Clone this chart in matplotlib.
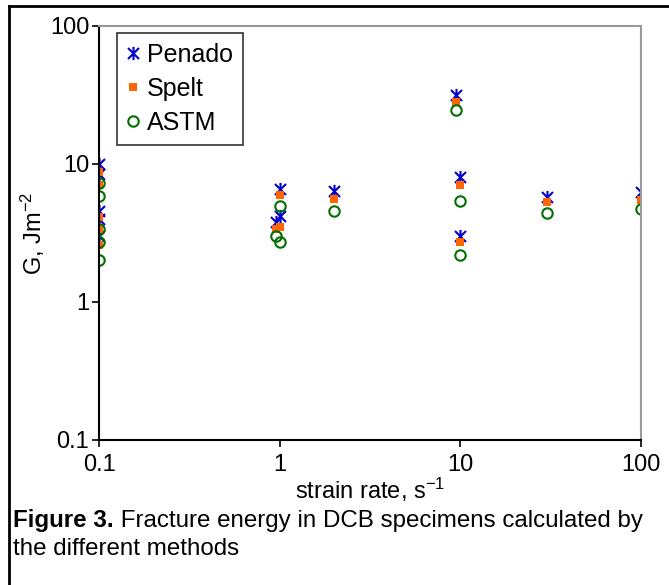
import numpy as np
import matplotlib
matplotlib.use("Agg")
import matplotlib.pyplot as plt
from matplotlib.path import Path
from matplotlib.lines import Line2D

plt.rcParams["font.family"] = ["Liberation Sans", "DejaVu Sans"]
plt.rcParams["mathtext.fontset"] = "custom"
plt.rcParams["mathtext.rm"] = "Liberation Sans"
plt.rcParams["mathtext.default"] = "regular"

# data
strain_rate = [0.1, 0.1, 0.1, 0.1, 0.1, 0.95, 1, 1, 2, 9.5, 10, 10, 30, 100]
penado = [10, 8.4, 4.6, 4.0, 3.0, 3.8, 6.6, 4.2, 6.4, 31.5, 8.1, 3.0, 5.8, 6.3]
spelt = [8.7, 7.1, 4.1, 3.4, 2.6, 3.4, 6.0, 3.5, 5.6, 28.0, 7.0, 2.7, 5.3, 5.5]
astm = [7.3, 5.9, 3.4, 2.7, 2.0, 3.0, 5.0, 2.7, 4.6, 24.5, 5.35, 2.2, 4.4, 4.75]
ticks = [0.1, 1, 10, 100]
tick_labels = ["0.1", "1", "10", "100"]

FS = 17

# excel-like asterisk marker (x with a vertical bar)
star = Path([(-1, -1), (1, 1), (-1, 1), (1, -1), (0, -1.2), (0, 1.2)],
            [Path.MOVETO, Path.LINETO, Path.MOVETO, Path.LINETO, Path.MOVETO, Path.LINETO])

fig = plt.figure(figsize=(6.69, 5.85), dpi=100)
ax = fig.add_axes([99 / 669, 1 - 440 / 585, 542 / 669, 414 / 585])

ax.plot(strain_rate, penado, linestyle="none", marker=star, markersize=9.5,
        markeredgecolor="#0000CC", markerfacecolor="none", markeredgewidth=1.5, label="Penado")
ax.plot(strain_rate, spelt, linestyle="none", marker="s", markersize=6,
        markerfacecolor="#FF6600", markeredgecolor="#FF6600", markeredgewidth=0, label="Spelt")
ax.plot(strain_rate, astm, linestyle="none", marker="o", markersize=7.5,
        markerfacecolor="none", markeredgecolor="#007000", markeredgewidth=1.5, label="ASTM")

ax.set_xscale("log")
ax.set_yscale("log")
ax.set_xlim(0.1, 100)
ax.set_ylim(0.1, 100)
ax.set_xticks(ticks)
ax.set_xticklabels(tick_labels)
ax.set_yticks(ticks)
ax.set_yticklabels(tick_labels)
ax.minorticks_off()
ax.tick_params(axis="both", direction="out", length=5, width=1.2, labelsize=FS, color="black")
ax.tick_params(axis="x", pad=5)
ax.tick_params(axis="y", pad=2)

for s in ["top", "right"]:
    ax.spines[s].set_color("#999999")
    ax.spines[s].set_linewidth(1.5)
for s in ["left", "bottom"]:
    ax.spines[s].set_color("black")
    ax.spines[s].set_linewidth(1.5)

ax.set_xlabel("strain rate, s$^{-1}$", fontsize=FS, va="center")
ax.xaxis.set_label_coords(0.5, (440 - 490) / 414)
ax.set_ylabel("G, Jm$^{-2}$", fontsize=FS, va="center")
ax.yaxis.set_label_coords((33 - 99) / 542, 0.5)

leg = ax.legend(loc="upper left", bbox_to_anchor=(0.033, 0.983), fontsize=FS + 1,
                frameon=True, fancybox=False, edgecolor="black", handlelength=0.5,
                handletextpad=0.3, labelspacing=0.4, borderpad=0.4, borderaxespad=0)
leg.get_frame().set_linewidth(1.2)

# caption: bold figure number, then the rest placed right after it
t1 = fig.text(13 / 669, 1 - 521 / 585, "Figure 3.", fontsize=17.4, fontweight="bold",
              va="center", ha="left")
ax.annotate(" Fracture energy in DCB specimens calculated by", xy=(1, 0.5),
            xycoords=t1, va="center", ha="left", fontsize=17.4, annotation_clip=False)
fig.text(13 / 669, 1 - 549 / 585, "the different methods", fontsize=17.4, va="center", ha="left")

# outer frame (left + top)
fig.add_artist(Line2D([9 / 669, 9 / 669], [0, 1 - 6 / 585], color="black", linewidth=2))
fig.add_artist(Line2D([9 / 669, 1], [1 - 6 / 585, 1 - 6 / 585], color="black", linewidth=2))

plt.savefig("out.png", dpi=100)
